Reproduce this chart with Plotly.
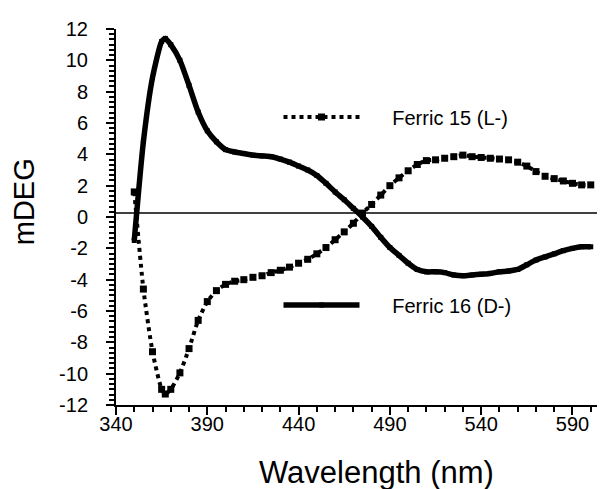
import plotly.graph_objects as go

# ---------------- data ----------------
WAVELENGTH = [350, 355, 360, 365, 367, 370, 375, 380, 385, 390, 395, 400, 405, 410,
              415, 420, 425, 430, 435, 440, 445, 450, 455, 460, 465, 470, 475, 480,
              485, 490, 495, 500, 505, 510, 515, 520, 525, 530, 535, 540, 545, 550,
              555, 560, 565, 570, 575, 580, 585, 590, 595, 600]

FERRIC_15_L = [1.6, -4.6, -8.6, -11.0, -11.3, -11.0, -9.95, -8.4, -6.6, -5.4, -4.7, -4.3,
               -4.1, -4.0, -3.85, -3.75, -3.55, -3.4, -3.2, -2.95, -2.7, -2.35, -1.95,
               -1.45, -0.95, -0.4, 0.25, 0.8, 1.4, 2.0, 2.5, 2.95, 3.35, 3.6, 3.65, 3.75,
               3.85, 3.95, 3.85, 3.8, 3.75, 3.7, 3.65, 3.5, 3.25, 2.9, 2.6, 2.45, 2.3,
               2.15, 2.05, 2.05]

FERRIC_16_D = [-1.5, 4.8, 8.9, 11.2, 11.4, 11.0, 10.0, 8.4, 6.7, 5.5, 4.8, 4.3, 4.15,
               4.05, 3.95, 3.9, 3.85, 3.7, 3.5, 3.25, 3.0, 2.65, 2.15, 1.6, 1.1, 0.55,
               0.0, -0.6, -1.3, -1.95, -2.45, -2.95, -3.35, -3.5, -3.5, -3.55, -3.7,
               -3.75, -3.7, -3.65, -3.6, -3.5, -3.45, -3.35, -3.05, -2.75, -2.55, -2.35,
               -2.15, -2.0, -1.9, -1.9]

SERIES_NAMES = ["Ferric 15 (L-)", "Ferric 16 (D-)"]

X_TICKS = [340, 390, 440, 490, 540, 590]
X_TICK_LABELS = ["340", "390", "440", "490", "540", "590"]
Y_TICKS = [12, 10, 8, 6, 4, 2, 0, -2, -4, -6, -8, -10, -12]
Y_TICK_LABELS = ["12", "10", "8", "6", "4", "2", "0", "-2", "-4", "-6", "-8", "-10", "-12"]

X_TITLE = "Wavelength (nm)"
Y_TITLE = "mDEG"
BASELINE = 0.25

FONT = "Liberation Sans, Arial, Helvetica, sans-serif"
PAD = "\u00a0" * 5

fig = go.Figure()

fig.add_trace(go.Scatter(
    x=WAVELENGTH, y=FERRIC_15_L, name=PAD + SERIES_NAMES[0], mode="lines+markers",
    line=dict(color="black", width=4, dash="4px,4px", shape="spline", smoothing=0.6),
    marker=dict(symbol="square", size=7, color="black"),
    legend="legend",
))
fig.add_trace(go.Scatter(
    x=WAVELENGTH, y=FERRIC_16_D, name=PAD + SERIES_NAMES[1], mode="lines+markers",
    line=dict(color="black", width=5.5, shape="spline", smoothing=0.6),
    marker=dict(symbol="square", size=5, color="black"),
    legend="legend2",
))

# horizontal baseline
fig.add_shape(type="line", xref="paper", x0=0, x1=1, yref="y", y0=BASELINE, y1=BASELINE,
              line=dict(color="black", width=1.5), layer="below")

fig.update_xaxes(
    range=[340, 610], tickmode="array", tickvals=X_TICKS, ticktext=X_TICK_LABELS,
    ticks="outside", ticklen=8, tickwidth=2, tickcolor="black",
    showline=True, linecolor="black", linewidth=2, showgrid=False, zeroline=False,
    minor=dict(dtick=10, tick0=340, ticks="outside", ticklen=5, tickwidth=2,
               tickcolor="black", showgrid=False),
    tickfont=dict(family=FONT, size=20, color="black"), ticklabelstandoff=-8,
)
fig.update_yaxes(
    range=[-12, 12], tickmode="array", tickvals=Y_TICKS, ticktext=Y_TICK_LABELS,
    ticks="outside", ticklen=8, tickwidth=2, tickcolor="black",
    showline=True, linecolor="black", linewidth=2, showgrid=False, zeroline=False,
    minor=dict(dtick=1/3, tick0=0, ticks="outside", ticklen=5, tickwidth=1.5,
               tickcolor="black", showgrid=False),
    tickfont=dict(family=FONT, size=20, color="black"), ticklabelstandoff=14,
)

legend_common = dict(xanchor="left", yanchor="middle", bgcolor="rgba(0,0,0,0)",
                     borderwidth=0, itemwidth=76,
                     font=dict(family=FONT, size=20, color="black"))

fig.update_layout(
    width=605, height=489,
    margin=dict(l=108, r=4, t=21, b=92),
    paper_bgcolor="white", plot_bgcolor="white",
    showlegend=True,
    legend=dict(x=0.3296, y=0.766, **legend_common),
    legend2=dict(x=0.3296, y=0.266, **legend_common),
    annotations=[
        dict(text=X_TITLE, xref="paper", yref="paper", x=0.528, y=-0.18,
             xanchor="center", yanchor="middle", showarrow=False,
             font=dict(family=FONT, size=31, color="black")),
        dict(text=Y_TITLE, xref="paper", yref="paper", x=-0.186, y=0.54,
             xanchor="center", yanchor="middle", textangle=-90, showarrow=False,
             font=dict(family=FONT, size=29, color="black")),
    ],
)

fig.write_html("out.html")
